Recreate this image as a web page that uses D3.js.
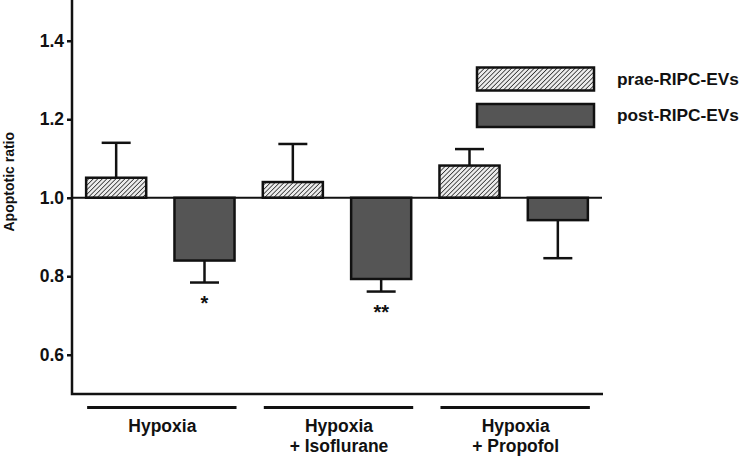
<!DOCTYPE html>
<html>
<head>
<meta charset="utf-8">
<script src="https://cdn.jsdelivr.net/npm/d3@7"></script>
<style>
  html, body { margin: 0; padding: 0; background: #fff; }
  svg { display: block; }
  text { font-family: "Liberation Sans", Arial, sans-serif; font-weight: bold; fill: #111; }
</style>
</head>
<body>
<svg id="chart" width="740" height="456"></svg>
<script>
// ---- data ----
const groups = ["Hypoxia", "Hypoxia + Isoflurane", "Hypoxia + Propofol"];
const groupLabelLines = [["Hypoxia"], ["Hypoxia", "+ Isoflurane"], ["Hypoxia", "+ Propofol"]];
const series = ["prae-RIPC-EVs", "post-RIPC-EVs"];
const praeMean = [1.051, 1.040, 1.082];
const praeErr  = [0.089, 0.097, 0.042];
const postMean = [0.840, 0.793, 0.943];
const postErr  = [0.056, 0.032, 0.097];
const significance = ["*", "**", ""];
const yTicks = [0.6, 0.8, 1.0, 1.2, 1.4];
const yDomain = [0.5, 1.5];
const baselineValue = 1.0;
const yTitle = "Apoptotic ratio";

// ---- layout ----
const svg = d3.select("#chart");
const plot = { left: 72, right: 602, top: 1.5, bottom: 394 };
const darkFill = "#555555";

const y = d3.scaleLinear().domain(yDomain).range([plot.bottom, plot.top]);
const xGroup = d3.scaleBand().domain(groups).range([plot.left, plot.right]).padding(0);
const xSeries = d3.scaleBand().domain(series).range([0, xGroup.bandwidth()])
  .paddingInner(0.32).paddingOuter(0.16);

// hatch pattern
const defs = svg.append("defs");
const pat = defs.append("pattern")
  .attr("id", "hatch").attr("patternUnits", "userSpaceOnUse")
  .attr("width", 3.2).attr("height", 3.2)
  .attr("patternTransform", "rotate(45)");
pat.append("rect").attr("width", 3.2).attr("height", 3.2).attr("fill", "#ececec");
pat.append("line").attr("x1", 0).attr("y1", 0).attr("x2", 0).attr("y2", 3.2)
  .attr("stroke", "#222").attr("stroke-width", 1.5);

const fills = { "prae-RIPC-EVs": "url(#hatch)", "post-RIPC-EVs": darkFill };

// rows
const rows = [];
groups.forEach((g, i) => {
  rows.push({ g, s: series[0], mean: praeMean[i], err: praeErr[i], sig: "" });
  rows.push({ g, s: series[1], mean: postMean[i], err: postErr[i], sig: significance[i] });
});
const bx = d => xGroup(d.g) + xSeries(d.s);
const bw = xSeries.bandwidth();

// error bars (drawn before bars so bars cover stem)
const eb = svg.append("g").attr("stroke", "#111").attr("stroke-width", 2.5).attr("fill", "none");
rows.forEach(d => {
  const cx = bx(d) + bw / 2;
  const end = d.mean >= baselineValue ? d.mean + d.err : d.mean - d.err;
  eb.append("line").attr("x1", cx).attr("x2", cx).attr("y1", y(d.mean)).attr("y2", y(end));
  eb.append("line").attr("x1", cx - 14.5).attr("x2", cx + 14.5).attr("y1", y(end)).attr("y2", y(end));
});

// bars
svg.append("g").selectAll("rect").data(rows).join("rect")
  .attr("x", d => bx(d))
  .attr("width", bw)
  .attr("y", d => Math.min(y(d.mean), y(baselineValue)))
  .attr("height", d => Math.abs(y(d.mean) - y(baselineValue)))
  .attr("fill", d => fills[d.s])
  .attr("stroke", "#111").attr("stroke-width", 2.5);

// significance markers
svg.append("g").selectAll("text").data(rows.filter(d => d.sig)).join("text")
  .attr("x", d => bx(d) + bw / 2)
  .attr("y", d => y(d.mean - d.err) + 27)
  .attr("text-anchor", "middle")
  .style("font-size", "20px").style("font-weight", "bold")
  .text(d => d.sig);

// baseline at 1.0
svg.append("line")
  .attr("x1", plot.left).attr("x2", plot.right)
  .attr("y1", y(baselineValue)).attr("y2", y(baselineValue))
  .attr("stroke", "#111").attr("stroke-width", 2.2);

// y axis
const yAxis = d3.axisLeft(y).tickValues(yTicks).tickFormat(d3.format(".1f"))
  .tickSize(5).tickPadding(3);
const yg = svg.append("g").attr("transform", `translate(${plot.left},0)`).call(yAxis);
yg.select(".domain").remove();
yg.selectAll(".tick line").attr("stroke", "#111").attr("stroke-width", 2.5);
yg.selectAll(".tick text").style("font-size", "17.5px").style("font-weight", "bold")
  .attr("fill", "#111").attr("font-family", null);

// axis frame lines (left + bottom)
svg.append("path")
  .attr("d", `M${plot.left},0 V${plot.bottom} H${plot.right + 1}`)
  .attr("fill", "none").attr("stroke", "#111").attr("stroke-width", 2.5);

// y title
svg.append("text")
  .attr("transform", `translate(14,${(y(0.75) + y(1.25)) / 2 - 16}) rotate(-90)`)
  .attr("text-anchor", "middle")
  .style("font-size", "14px")
  .text(yTitle);

// group underlines & labels
const gg = svg.append("g");
groups.forEach((g, i) => {
  const x0 = xGroup(g) + xSeries(series[0]);
  const x1 = xGroup(g) + xSeries(series[1]) + bw;
  gg.append("line").attr("x1", x0 + 1).attr("x2", x1 + 2)
    .attr("y1", 407.5).attr("y2", 407.5)
    .attr("stroke", "#111").attr("stroke-width", 3.2);
  const cx = (x0 + x1) / 2;
  groupLabelLines[i].forEach((t, j) => {
    gg.append("text").attr("x", cx + 2).attr("y", 432 + j * 20)
      .attr("text-anchor", "middle").style("font-size", "17.5px").text(t);
  });
});

// legend
const lg = svg.append("g");
series.forEach((s, i) => {
  const yy = 67.5 + i * 36.5;
  lg.append("rect").attr("x", 477).attr("y", yy).attr("width", 117).attr("height", 23)
    .attr("fill", fills[s]).attr("stroke", "#111").attr("stroke-width", 2.5);
  lg.append("text").attr("x", 617).attr("y", yy + 17)
    .style("font-size", "17.3px").text(s);
});
</script>
</body>
</html>
